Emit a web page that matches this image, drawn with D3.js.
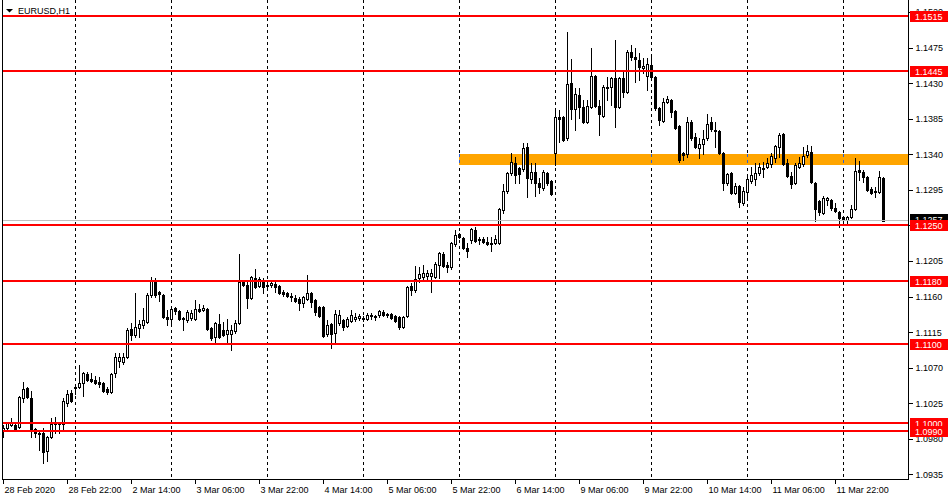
<!DOCTYPE html>
<html>
<head>
<meta charset="utf-8">
<script src="https://cdn.jsdelivr.net/npm/d3@7"></script>
<style>
  body { margin: 0; background: #fff; }
  svg text { font-family: "Liberation Sans", Arial, sans-serif; font-size: 9px; }
</style>
</head>
<body>
<div id="chart-container"></div>
<script>
// EURUSD H1, 28 Feb 2020 06:00 .. 12 Mar 2020 10:00 (one bar per hour, weekend skipped)
const symbol = "EURUSD,H1";

const opens = [
  1.0990,1.0994,1.0998,1.0998,1.0995,1.1032,1.1044,1.1032,1.0993,1.0987,
  1.0987,1.0965,1.0982,1.0999,1.1000,1.0999,1.1025,1.1038,1.1044,1.1046,
  1.1051,1.1062,1.1056,1.1054,1.1052,1.1051,1.1043,1.1039,1.1064,1.1079,
  1.1077,1.1084,1.1119,1.1111,1.1120,1.1124,1.1128,1.1162,1.1180,1.1166,
  1.1162,1.1134,1.1132,1.1146,1.1142,1.1133,1.1130,1.1133,1.1132,1.1144,
  1.1143,1.1144,1.1120,1.1109,1.1125,1.1118,1.1113,1.1113,1.1117,1.1127,
  1.1179,1.1175,1.1158,1.1184,1.1174,1.1181,1.1175,1.1175,1.1176,1.1174,
  1.1166,1.1165,1.1161,1.1158,1.1157,1.1152,1.1157,1.1165,1.1156,1.1147,
  1.1147,1.1113,1.1125,1.1114,1.1127,1.1130,1.1123,1.1129,1.1132,1.1133,
  1.1133,1.1132,1.1136,1.1134,1.1137,1.1141,1.1138,1.1138,1.1136,1.1134,
  1.1122,1.1136,1.1174,1.1168,1.1184,1.1185,1.1186,1.1186,1.1185,1.1200,
  1.1214,1.1200,1.1197,1.1227,1.1239,1.1234,1.1221,1.1232,1.1244,1.1233,
  1.1233,1.1229,1.1228,1.1228,1.1228,1.1270,1.1294,1.1316,1.1329,1.1323,
  1.1321,1.1349,1.1309,1.1318,1.1304,1.1297,1.1316,1.1306,1.1342,1.1387,
  1.1387,1.1361,1.1430,1.1397,1.1415,1.1400,1.1381,1.1400,1.1439,1.1401,
  1.1389,1.1424,1.1425,1.1436,1.1400,1.1436,1.1419,1.1469,1.1463,1.1459,
  1.1449,1.1439,1.1453,1.1438,1.1399,1.1382,1.1406,1.1409,1.1395,1.1376,
  1.1342,1.1340,1.1381,1.1362,1.1348,1.1353,1.1361,1.1381,1.1371,1.1370,
  1.1342,1.1304,1.1316,1.1291,1.1300,1.1278,1.1292,1.1306,1.1309,1.1316,
  1.1322,1.1324,1.1328,1.1335,1.1349,1.1366,1.1329,1.1313,1.1304,1.1324,
  1.1328,1.1339,1.1343,1.1304,1.1281,1.1266,1.1282,1.1282,1.1272,1.1267,
  1.1261,1.1257,1.1261,1.1271,1.1320,1.1318,1.1311,1.1296,1.1292,1.1292,
  1.1310
];
const highs = [
  1.0998,1.1002,1.1007,1.1000,1.1034,1.1052,1.1046,1.1041,1.0994,1.0991,
  1.0994,1.0984,1.1007,1.1008,1.1001,1.1032,1.1042,1.1042,1.1047,1.1074,
  1.1065,1.1065,1.1063,1.1060,1.1058,1.1052,1.1046,1.1063,1.1089,1.1089,
  1.1089,1.1120,1.1127,1.1165,1.1130,1.1145,1.1165,1.1185,1.1184,1.1167,
  1.1163,1.1143,1.1147,1.1147,1.1143,1.1134,1.1143,1.1143,1.1156,1.1151,
  1.1149,1.1146,1.1122,1.1128,1.1138,1.1128,1.1132,1.1124,1.1130,1.1214,
  1.1181,1.1179,1.1186,1.1195,1.1185,1.1184,1.1181,1.1181,1.1180,1.1175,
  1.1168,1.1166,1.1165,1.1162,1.1160,1.1161,1.1187,1.1166,1.1157,1.1148,
  1.1148,1.1130,1.1127,1.1143,1.1143,1.1132,1.1134,1.1143,1.1139,1.1138,
  1.1136,1.1139,1.1139,1.1137,1.1143,1.1143,1.1139,1.1139,1.1137,1.1136,
  1.1136,1.1174,1.1177,1.1199,1.1198,1.1200,1.1194,1.1195,1.1204,1.1216,
  1.1216,1.1204,1.1229,1.1244,1.1240,1.1235,1.1228,1.1247,1.1248,1.1235,
  1.1235,1.1235,1.1235,1.1238,1.1272,1.1303,1.1318,1.1342,1.1337,1.1324,
  1.1354,1.1354,1.1329,1.1329,1.1310,1.1320,1.1318,1.1308,1.1396,1.1396,
  1.1388,1.1495,1.1461,1.1424,1.1424,1.1409,1.1409,1.1475,1.1440,1.1409,
  1.1428,1.1438,1.1438,1.1485,1.1438,1.1447,1.1472,1.1478,1.1475,1.1468,
  1.1462,1.1462,1.1463,1.1439,1.1400,1.1411,1.1414,1.1410,1.1396,1.1377,
  1.1343,1.1387,1.1383,1.1367,1.1361,1.1371,1.1391,1.1387,1.1381,1.1371,
  1.1343,1.1316,1.1318,1.1304,1.1301,1.1299,1.1314,1.1324,1.1329,1.1329,
  1.1330,1.1335,1.1342,1.1352,1.1367,1.1367,1.1334,1.1318,1.1329,1.1337,
  1.1349,1.1352,1.1351,1.1305,1.1282,1.1287,1.1286,1.1283,1.1278,1.1268,
  1.1262,1.1262,1.1276,1.1335,1.1332,1.1320,1.1313,1.1299,1.1299,1.1319,
  1.1311
];
const lows = [
  1.0983,1.0991,1.0996,1.0990,1.0994,1.1027,1.1032,1.0983,1.0982,1.0966,
  1.0949,1.0952,1.0981,1.0988,1.0988,1.0991,1.1022,1.1027,1.1037,1.1044,
  1.1034,1.1053,1.1052,1.1049,1.1046,1.1039,1.1037,1.1038,1.1058,1.1071,
  1.1075,1.1082,1.1105,1.1109,1.1109,1.1120,1.1127,1.1160,1.1160,1.1154,
  1.1133,1.1124,1.1127,1.1138,1.1130,1.1118,1.1128,1.1130,1.1130,1.1141,
  1.1142,1.1118,1.1105,1.1101,1.1108,1.1110,1.1103,1.1092,1.1114,1.1125,
  1.1174,1.1146,1.1157,1.1171,1.1172,1.1165,1.1171,1.1172,1.1166,1.1163,
  1.1161,1.1160,1.1154,1.1153,1.1143,1.1147,1.1156,1.1147,1.1137,1.1134,
  1.1109,1.1110,1.1095,1.1101,1.1124,1.1118,1.1122,1.1128,1.1129,1.1130,
  1.1129,1.1130,1.1132,1.1130,1.1134,1.1136,1.1134,1.1132,1.1128,1.1119,
  1.1120,1.1134,1.1162,1.1166,1.1179,1.1181,1.1181,1.1166,1.1184,1.1184,
  1.1197,1.1191,1.1195,1.1224,1.1234,1.1220,1.1210,1.1228,1.1229,1.1227,
  1.1228,1.1225,1.1218,1.1227,1.1227,1.1266,1.1291,1.1314,1.1304,1.1304,
  1.1319,1.1286,1.1304,1.1287,1.1291,1.1295,1.1301,1.1289,1.1327,1.1356,
  1.1357,1.1358,1.1385,1.1371,1.1386,1.1380,1.1380,1.1399,1.1400,1.1364,
  1.1387,1.1409,1.1402,1.1375,1.1399,1.1413,1.1418,1.1459,1.1431,1.1434,
  1.1443,1.1421,1.1434,1.1396,1.1377,1.1381,1.1405,1.1387,1.1372,1.1330,
  1.1333,1.1337,1.1358,1.1348,1.1335,1.1341,1.1358,1.1370,1.1349,1.1340,
  1.1295,1.1301,1.1290,1.1290,1.1273,1.1276,1.1286,1.1304,1.1301,1.1314,
  1.1311,1.1323,1.1324,1.1330,1.1337,1.1327,1.1311,1.1297,1.1302,1.1323,
  1.1325,1.1337,1.1304,1.1256,1.1263,1.1265,1.1276,1.1270,1.1267,1.1248,
  1.1251,1.1253,1.1259,1.1270,1.1307,1.1305,1.1294,1.1290,1.1286,1.1291,
  1.1256
];
const closes = [
  1.0994,1.1000,1.1000,1.0993,1.1033,1.1043,1.1033,1.0991,1.0987,1.0986,
  1.0963,1.0982,1.0999,1.1000,1.0999,1.1028,1.1037,1.1028,1.1046,1.1051,
  1.1064,1.1054,1.1053,1.1051,1.1049,1.1041,1.1039,1.1062,1.1084,1.1084,
  1.1084,1.1118,1.1111,1.1122,1.1125,1.1130,1.1162,1.1180,1.1162,1.1163,
  1.1134,1.1132,1.1144,1.1142,1.1132,1.1132,1.1140,1.1139,1.1144,1.1142,
  1.1146,1.1119,1.1108,1.1127,1.1109,1.1111,1.1118,1.1118,1.1127,1.1179,
  1.1175,1.1158,1.1185,1.1172,1.1182,1.1172,1.1174,1.1177,1.1172,1.1165,
  1.1163,1.1161,1.1160,1.1154,1.1152,1.1160,1.1165,1.1153,1.1141,1.1135,
  1.1110,1.1124,1.1113,1.1138,1.1137,1.1122,1.1132,1.1137,1.1134,1.1136,
  1.1132,1.1137,1.1137,1.1136,1.1142,1.1137,1.1137,1.1133,1.1129,1.1122,
  1.1134,1.1172,1.1168,1.1182,1.1189,1.1190,1.1190,1.1190,1.1201,1.1215,
  1.1199,1.1197,1.1228,1.1238,1.1235,1.1221,1.1218,1.1246,1.1230,1.1232,
  1.1229,1.1227,1.1227,1.1233,1.1271,1.1294,1.1316,1.1330,1.1314,1.1315,
  1.1348,1.1310,1.1318,1.1304,1.1299,1.1318,1.1304,1.1290,1.1387,1.1385,
  1.1358,1.1429,1.1397,1.1416,1.1400,1.1381,1.1401,1.1439,1.1401,1.1391,
  1.1425,1.1425,1.1437,1.1400,1.1436,1.1419,1.1469,1.1463,1.1461,1.1450,
  1.1452,1.1454,1.1438,1.1399,1.1383,1.1406,1.1410,1.1394,1.1373,1.1333,
  1.1339,1.1381,1.1361,1.1349,1.1353,1.1359,1.1378,1.1372,1.1370,1.1342,
  1.1304,1.1315,1.1291,1.1300,1.1280,1.1294,1.1309,1.1314,1.1317,1.1324,
  1.1323,1.1329,1.1338,1.1351,1.1364,1.1328,1.1313,1.1302,1.1327,1.1329,
  1.1338,1.1344,1.1305,1.1271,1.1267,1.1285,1.1285,1.1272,1.1268,1.1259,
  1.1257,1.1261,1.1271,1.1319,1.1318,1.1311,1.1295,1.1291,1.1294,1.1311,
  1.1256
];

// horizontal levels and the orange zone
const levels = [1.1515, 1.1445, 1.1250, 1.1180, 1.1100, 1.1000, 1.0990];
const zoneLow = 1.1326, zoneHigh = 1.1341;
const zoneStartBar = 114;            // 6 Mar 00:00
const bidPrice = 1.12566, bidLabel = "1.1257";

// price scale ticks
const priceTicks = [1.0935, 1.0980, 1.1025, 1.1070, 1.1115, 1.1160, 1.1205,
                    1.1250, 1.1295, 1.1340, 1.1385, 1.1430, 1.1475, 1.1520];

// time scale ticks (bar index -> label)
const timeTickBars = [0, 16, 32, 48, 64, 80, 96, 112, 128, 144, 160, 176, 192, 208];
const timeTickLabels = ["28 Feb 2020", "28 Feb 22:00", "2 Mar 14:00", "3 Mar 06:00",
  "3 Mar 22:00", "4 Mar 14:00", "5 Mar 06:00", "5 Mar 22:00", "6 Mar 14:00",
  "9 Mar 06:00", "9 Mar 22:00", "10 Mar 14:00", "11 Mar 06:00", "11 Mar 22:00"];

// period separators (first bar of each day)
const dayStartBars = [18, 42, 66, 90, 114, 138, 162, 186, 210];

const width = 950;
const height = 500;
const plotLeft = 2;
const plotRight = 908;
const plotBottom = 479;

const x = d3.scaleLinear()
    .domain([0, opens.length - 1])
    .range([3, 883]);

const y = d3.scaleLinear()
    .domain([1.09293, 1.15352])
    .range([plotBottom, 0]);

const py = v => Math.round(y(v));

const svg = d3.create("svg")
    .attr("width", width)
    .attr("height", height)
    .attr("shape-rendering", "crispEdges");

svg.append("rect").attr("width", width).attr("height", height).attr("fill", "#fff");

// period separators
svg.append("g")
  .selectAll("line")
  .data(dayStartBars)
  .join("line")
    .attr("x1", d => Math.round(x(d)) + 0.5)
    .attr("x2", d => Math.round(x(d)) + 0.5)
    .attr("y1", 0)
    .attr("y2", plotBottom)
    .attr("stroke", "#000")
    .attr("stroke-dasharray", "3,3");

// orange zone
svg.append("rect")
    .attr("x", Math.round(x(zoneStartBar)))
    .attr("y", py(zoneHigh))
    .attr("width", plotRight - Math.round(x(zoneStartBar)))
    .attr("height", py(zoneLow) - py(zoneHigh))
    .attr("fill", "#ffa500");

// separators show through the zone in blue
svg.append("g")
  .selectAll("line")
  .data(dayStartBars.filter(d => d >= zoneStartBar))
  .join("line")
    .attr("x1", d => Math.round(x(d)) + 0.5)
    .attr("x2", d => Math.round(x(d)) + 0.5)
    .attr("y1", py(zoneHigh))
    .attr("y2", py(zoneLow))
    .attr("stroke", "#2f5fd0")
    .attr("stroke-dasharray", "3,3");

// candles
const bars = d3.range(opens.length).map(i => ({
  i, o: opens[i], h: highs[i], l: lows[i], c: closes[i]
}));

const candle = svg.append("g")
  .selectAll("g")
  .data(bars)
  .join("g");

candle.append("rect")
    .attr("x", d => Math.round(x(d.i)))
    .attr("y", d => py(d.h))
    .attr("width", 1)
    .attr("height", d => py(d.l) - py(d.h) + 1)
    .attr("fill", "#000");

candle.append("rect")
    .attr("x", d => Math.round(x(d.i)) - 1)
    .attr("y", d => py(Math.max(d.o, d.c)))
    .attr("width", 3)
    .attr("height", d => py(Math.min(d.o, d.c)) - py(Math.max(d.o, d.c)) + 1)
    .attr("fill", "#000");

candle.filter(d => d.c > d.o && py(d.o) - py(d.c) > 1)
  .append("rect")
    .attr("x", d => Math.round(x(d.i)))
    .attr("y", d => py(d.c) + 1)
    .attr("width", 1)
    .attr("height", d => py(d.o) - py(d.c) - 1)
    .attr("fill", "#fff");

// bid line
svg.append("line")
    .attr("x1", plotLeft).attr("x2", plotRight)
    .attr("y1", py(bidPrice) + 0.5).attr("y2", py(bidPrice) + 0.5)
    .attr("stroke", "#c0c0c0");

// red levels
svg.append("g")
  .selectAll("line")
  .data(levels)
  .join("line")
    .attr("x1", plotLeft).attr("x2", plotRight)
    .attr("y1", d => py(d)).attr("y2", d => py(d))
    .attr("stroke", "#ff0000")
    .attr("stroke-width", 2);

// frame
svg.append("line")
    .attr("x1", plotLeft + 0.5).attr("x2", plotLeft + 0.5)
    .attr("y1", 0).attr("y2", plotBottom + 1)
    .attr("stroke", "#000");

// right price axis
const yAxis = svg.append("g")
    .attr("transform", `translate(${plotRight + 0.5},0)`)
    .call(d3.axisRight(y).tickValues(priceTicks).tickSize(4).tickPadding(3)
      .tickFormat(d3.format(".4f")));
yAxis.select(".domain").attr("d", `M0,0V${plotBottom + 0.5}`).attr("stroke", "#000");
yAxis.selectAll(".tick line").attr("stroke", "#000");
yAxis.selectAll(".tick text")
    .attr("fill", "#000")
    .style("font-family", "Liberation Sans, Arial, sans-serif")
    .style("font-size", "9px");

// bottom time axis
const xAxis = svg.append("g")
    .attr("transform", `translate(0,${plotBottom + 0.5})`)
    .call(d3.axisBottom(x).tickValues(timeTickBars).tickSize(4).tickPadding(3)
      .tickFormat((d, k) => timeTickLabels[k]));
xAxis.select(".domain").attr("d", `M${plotLeft},0H${plotRight + 1}`).attr("stroke", "#000");
xAxis.selectAll(".tick line").attr("stroke", "#000");
xAxis.selectAll(".tick text")
    .attr("fill", "#000")
    .attr("text-anchor", "start")
    .attr("x", 1)
    .style("font-family", "Liberation Sans, Arial, sans-serif")
    .style("font-size", "9px");

// bid label (black) under the level labels
const labelX = plotRight + 2;
svg.append("rect")
    .attr("x", labelX).attr("y", py(bidPrice) - 6)
    .attr("width", 38).attr("height", 11)
    .attr("fill", "#000");
svg.append("text")
    .attr("x", labelX + 5).attr("y", py(bidPrice) + 3)
    .attr("fill", "#fff")
    .text(bidLabel);

// red level labels
const lvl = svg.append("g")
  .selectAll("g")
  .data(levels)
  .join("g")
    .attr("transform", d => `translate(${labelX},${py(d)})`);
lvl.append("rect")
    .attr("y", -5).attr("width", 38).attr("height", 11)
    .attr("fill", "#ff0000");
lvl.append("text")
    .attr("x", 5).attr("y", 4)
    .attr("fill", "#fff")
    .text(d => d3.format(".4f")(d));

// symbol title
svg.append("path")
    .attr("d", "M6,9H13L9.5,12.5Z")
    .attr("fill", "#000")
    .attr("shape-rendering", "auto");
svg.append("text")
    .attr("x", 18).attr("y", 14)
    .attr("fill", "#000")
    .text(symbol);

d3.select("#chart-container").append(() => svg.node());
</script>
</body>
</html>
